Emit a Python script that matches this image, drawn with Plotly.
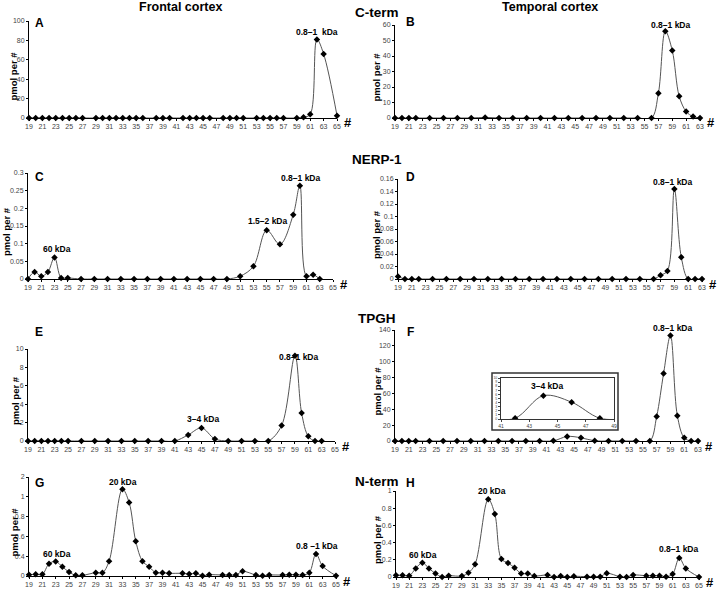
import plotly.graph_objects as go

W, H = 720, 590

# ---- data ----
FRONTAL_X = [19, 20, 21, 22, 23, 24, 25, 26, 27, 29, 30, 31, 32, 33, 34, 35, 36, 38, 39, 40,
             42, 43, 44, 45, 46, 48, 49, 50, 51, 53, 54, 55, 56, 57, 59, 60, 61, 62, 63, 65]
CTERM_FRONTAL = [0, 0, 0, 0, 0, 0, 0, 0, 0, 0, 0, 0, 0, 0, 0, 0, 0, 0, 0, 0,
                 0, 0, 0, 0, 0, 0, 0, 0, 0, 0, 0, 0, 0, 0, 0, 0.7, 3.8, 81, 66, 2.4]

TEMPORAL_X = [19, 20, 21, 22, 24, 26, 28, 30, 32, 34, 36, 38, 40, 42, 44, 46, 48, 50, 52, 54,
              56, 57, 58, 59, 60, 61, 62, 63]
CTERM_TEMPORAL = [0, 0, 0, 0, 0, 0, 0, 0, 0.4, 0, 0, 0, 0, 0, 0, 0, 0, 0, 0, 0,
                  0, 16, 56, 43.5, 14, 4.2, 0.9, 0]

ODD_X = [19, 20, 21, 22, 23, 24, 25, 27, 29, 31, 33, 35, 37, 39, 41, 43, 45, 47, 49, 51,
         53, 55, 57, 59, 60, 61, 62, 63]
NERP_FRONTAL = [0, 0.02, 0.008, 0.02, 0.061, 0.003, 0.003, 0, 0, 0, 0, 0, 0, 0, 0, 0, 0, 0, 0,
                0.008, 0.036, 0.138, 0.098, 0.182, 0.264, 0.008, 0.012, 0]
NERP_TEMPORAL = [0.004, 0, 0, 0, 0, 0, 0, 0, 0, 0, 0, 0, 0, 0, 0, 0, 0, 0, 0, 0,
                 0, 0.006, 0.013, 0.144, 0.035, 0, 0, 0]

TPGH_FRONTAL = [0, 0, 0, 0, 0, 0, 0, 0, 0, 0, 0, 0, 0, 0, 0, 0.66, 1.42, 0.22, 0, 0,
                0, 0, 1.68, 9.27, 3.03, 0.51, 0, 0]
TPGH_TEMPORAL = [0, 0, 0, 0, 0, 0, 0, 0, 0, 0, 0, 0, 0, 0.2, 5.7, 4.1, 0.2, 0, 0, 0,
                 0, 31, 85, 133, 32, 4, 0, 0]

NTERM_X = [19, 20, 21, 22, 23, 24, 25, 26, 27, 29, 30, 31, 33, 34, 35, 36, 37, 38, 39, 40,
           42, 43, 44, 45, 46, 48, 49, 50, 51, 53, 54, 55, 57, 58, 59, 60, 61, 62, 63, 65]
NTERM_FRONTAL = [0.213, 0.217, 0.217, 0.323, 0.347, 0.293, 0.24, 0.207, 0.207, 0.233, 0.233,
                 0.35, 1.077, 0.943, 0.55, 0.35, 0.293, 0.233, 0.233, 0.227, 0.227, 0.22,
                 0.227, 0.203, 0.213, 0.21, 0.21, 0.21, 0.247, 0.21, 0.203, 0.21, 0.21, 0.213,
                 0.213, 0.21, 0.233, 0.423, 0.30, 0.203]
NTERM_TEMPORAL = [0.02, 0.02, 0.015, 0.1, 0.167, 0.1, 0.04, 0, 0.015, 0.012, 0.05, 0.147,
                  0.903, 0.733, 0.21, 0.163, 0.108, 0.04, 0.04, 0.012, 0.023, 0, 0.012, 0,
                  0.008, 0.004, 0.004, 0.004, 0.043, 0.004, 0, 0.023, 0.015, 0.015, 0.015,
                  0.004, 0.035, 0.22, 0.1, 0]
G_TICKVALS = [0.2, 0.4, 0.6, 0.8, 1.0, 1.2]
G_TICKTEXT = ["0", "0.4", "0.6", "0.8", "1", "2"]

FONT = "Arial, Liberation Sans, sans-serif"


def dom(x0, x1, y0, y1):
    return [x0 / W, x1 / W], [1 - y1 / H, 1 - y0 / H]


# panel: (x data, y data, x max, y range, dtick, plot box in px, y-title x)
panels = [
    ("A", FRONTAL_X, CTERM_FRONTAL, 65, [0, 100], 20, (29, 337, 21, 118), 13),
    ("B", TEMPORAL_X, CTERM_TEMPORAL, 63, [0, 60], 10, (395, 700, 25, 118), 376),
    ("C", ODD_X, NERP_FRONTAL, 65, [0, 0.3], 0.05, (28, 333, 173, 279), 6),
    ("D", TEMPORAL_X, NERP_TEMPORAL, 63, [0, 0.16], 0.02, (398, 702, 179, 279), 376),
    ("E", ODD_X, TPGH_FRONTAL, 65, [0, 10], 2, (28, 335, 349, 441), 15),
    ("F", TEMPORAL_X, TPGH_TEMPORAL, 63, [0, 140], 20, (395, 698, 330, 441), 377),
    ("G", NTERM_X, NTERM_FRONTAL, 65, [0.2, 1.2], None, (29, 336, 477, 576), 14),
    ("H", NTERM_X, NTERM_TEMPORAL, 65, [0, 1], 0.2, (396, 699, 491, 577), 377),
]

fig = go.Figure()
layout = {}
annotations = []


def txt(x, y, s, size, bold=True, **kw):
    annotations.append(dict(
        x=x / W, y=1 - y / H, xref="paper", yref="paper", showarrow=False,
        xanchor="center", yanchor="middle",
        text=f"<b>{s}</b>" if bold else s,
        font=dict(family=FONT, size=size, color="black"), **kw))


tick_font = dict(family=FONT, size=7, color="#444")
for i, (letter, xs, ys, xmax, yr, dt, box, ttl_x) in enumerate(panels, start=1):
    sfx = "" if i == 1 else str(i)
    xd, yd = dom(*box)
    fig.add_trace(go.Scatter(
        x=xs, y=ys, xaxis=f"x{sfx}", yaxis=f"y{sfx}", mode="lines+markers",
        line=dict(color="#555", width=1, shape="spline"),
        marker=dict(symbol="diamond", size=5, color="black"),
        cliponaxis=False, showlegend=False))
    layout[f"xaxis{sfx}"] = dict(
        domain=xd, anchor=f"y{sfx}", range=[19, xmax], tick0=19, dtick=2,
        showline=True, linecolor="black", linewidth=1, ticks="outside", ticklen=2,
        tickcolor="black", tickfont=tick_font, showgrid=False, zeroline=False,
        automargin=False)
    ya = dict(
        domain=yd, anchor=f"x{sfx}", range=yr, showline=True, linecolor="black",
        linewidth=1, ticks="outside", ticklen=2, tickcolor="black", tickfont=tick_font,
        showgrid=False, zeroline=False, automargin=False)
    if dt is None:
        ya.update(tickvals=G_TICKVALS, ticktext=G_TICKTEXT)
    else:
        ya.update(tick0=0, dtick=dt)
    layout[f"yaxis{sfx}"] = ya
    x0, x1, y0, y1 = box
    # "#" at end of x axis
    txt(x1 + 11, y1 + 5, "#", 13)
    # y-axis title
    txt(ttl_x, (y0 + y1) / 2 + 6, "pmol per #", 9.5, textangle=-90)

# panel letters
for letter, (x, y) in {"A": (39, 23), "B": (410, 22), "C": (39, 177), "D": (410, 177),
                       "E": (39, 332), "F": (410, 332), "G": (39, 483), "H": (410, 483)}.items():
    txt(x, y, letter, 12)

# column / row titles
txt(180, 7, "Frontal cortex", 12.5)
txt(550, 7, "Temporal cortex", 12.5)
for s, y in [("C-term", 12), ("NERP-1", 159), ("TPGH", 318), ("N-term", 481)]:
    txt(377, y, s, 13.5)

# peak labels
peaks = [
    ("0.8\u20131  kDa", 317, 32), ("0.8\u20131 kDa", 670, 25),
    ("60 kDa", 57, 249), ("1.5\u20132 kDa", 267, 221), ("0.8\u20131 kDa", 300, 178),
    ("0.8\u20131 kDa", 672, 182),
    ("3\u20134 kDa", 203, 419), ("0.8\u20131 kDa", 298, 357), ("0.8\u20131 kDa", 672, 328),
    ("3\u20134 kDa", 547, 386),
    ("60 kDa", 57, 554), ("20 kDa", 123, 482), ("0.8 \u20131 kDa", 317, 546),
    ("60 kDa", 423, 555), ("20 kDa", 492, 491), ("0.8\u20131 kDa", 678, 549),
]
for s, x, y in peaks:
    txt(x, y, s, 8.5)

# inset (TPGH temporal, fractions 41-49)
xd, yd = dom(501, 614, 378, 419)
fig.add_trace(go.Scatter(
    x=TEMPORAL_X, y=TPGH_TEMPORAL, xaxis="x9", yaxis="y9", mode="lines+markers",
    line=dict(color="#555", width=1, shape="spline"),
    marker=dict(symbol="diamond", size=5, color="black"), showlegend=False))
layout["xaxis9"] = dict(domain=xd, anchor="y9", range=[41, 49], tick0=41, dtick=2,
                        showline=True, mirror=True, linecolor="#333", linewidth=1,
                        ticks="outside", ticklen=2, automargin=False,
                        tickfont=dict(family=FONT, size=5, color="#444"),
                        showgrid=False, zeroline=False)
layout["yaxis9"] = dict(domain=yd, anchor="x9", range=[0, 10], tick0=0, dtick=1,
                        showline=True, mirror=True, linecolor="#333", linewidth=1,
                        ticks="outside", ticklen=2, automargin=False,
                        tickfont=dict(family=FONT, size=3.5, color="#444"),
                        showgrid=False, zeroline=False)

shapes = [dict(type="rect", xref="paper", yref="paper", x0=492 / W, x1=618 / W,
               y0=1 - 430 / H, y1=1 - 373 / H, line=dict(color="#333", width=1.5))]

# arrowhead at end of D x-axis
annotations.append(dict(x=64, y=0, xref="x4", yref="y4", ax=-5, ay=0, showarrow=True,
                        arrowhead=2, arrowsize=0.7, arrowwidth=1, arrowcolor="black", text=""))

fig.update_layout(
    width=W, height=H, margin=dict(l=0, r=0, t=0, b=0),
    paper_bgcolor="white", plot_bgcolor="rgba(0,0,0,0)",
    font=dict(family=FONT), annotations=annotations, shapes=shapes, **layout)

# the page's default body margin would push the 720x590 figure off the window
fig.write_html("out.html", config={"displayModeBar": False},
               post_script="document.body.style.margin = '0';")
